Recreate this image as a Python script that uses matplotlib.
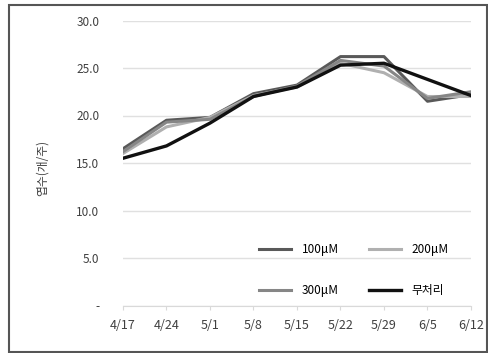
import matplotlib
matplotlib.use("Agg")
import matplotlib.pyplot as plt
from matplotlib.patches import Rectangle

plt.rcParams['font.family'] = ['Noto Sans CJK KR', 'DejaVu Sans']

# 날짜와 처리별 엽수
dates = ['4/17', '4/24', '5/1', '5/8', '5/15', '5/22', '5/29', '6/5', '6/12']
t100 = [16.5, 19.5, 19.8, 22.3, 23.2, 26.2, 26.2, 21.5, 22.2]
t200 = [16.0, 18.8, 19.8, 22.1, 23.0, 25.5, 24.5, 22.0, 22.0]
t300 = [16.2, 19.3, 19.6, 22.0, 23.1, 25.8, 25.2, 21.8, 22.5]
control = [15.5, 16.8, 19.2, 22.0, 23.0, 25.3, 25.5, 23.8, 22.1]
yticks = [0, 5, 10, 15, 20, 25, 30]
ylabels = ['-', '5.0', '10.0', '15.0', '20.0', '25.0', '30.0']

W, H = 489, 353
fig = plt.figure(figsize=(W / 100, H / 100), dpi=100)
ax = fig.add_axes([123 / W, (H - 305.5) / H, (471 - 123) / W, (305.5 - 20.5) / H])

x = range(len(dates))
l1, = ax.plot(x, t100, color='#595959', lw=2.2, label='100μM')
l2, = ax.plot(x, t200, color='#b0b0b0', lw=2.2, label='200μM')
l3, = ax.plot(x, t300, color='#868686', lw=2.2, label='300μM')
l4, = ax.plot(x, control, color='#111111', lw=2.4, label='무처리')

ax.set_xlim(0, 8)
ax.set_ylim(0, 30)
ax.set_xticks(list(x))
ax.set_xticklabels(dates, fontsize=9, color='#404040')
ax.set_yticks(yticks)
ax.set_yticklabels(ylabels, fontsize=8.5, color='#404040')
ax.tick_params(axis='y', length=0, pad=17)
ax.tick_params(axis='x', length=3, color='#d9d9d9', pad=7)
ax.grid(axis='y', color='#e0e0e0', lw=1)
ax.set_axisbelow(True)
for s in ['top', 'right', 'left']:
    ax.spines[s].set_visible(False)
ax.spines['bottom'].set_color('#d9d9d9')

fig.text(42 / W, 1 - 168 / H, '엽수(개/주)', rotation=90, fontsize=8.5,
         color='#404040', ha='center', va='center')

ax.legend([l1, l3, l2, l4], ['100μM', '300μM', '200μM', '무처리'], ncol=2,
          loc='center', bbox_to_anchor=(354 / W, 1 - 270 / H),
          bbox_transform=fig.transFigure, frameon=False, fontsize=8.5,
          handlelength=2.7, handletextpad=0.9, columnspacing=2.6,
          labelspacing=2.4, borderpad=0)

fig.patches.append(Rectangle((9 / W, 1 / H), (487 - 9) / W, (348 - 1) / H,
                             transform=fig.transFigure, fill=False,
                             edgecolor='#555555', lw=1.5))

fig.savefig('out.png', dpi=100)
